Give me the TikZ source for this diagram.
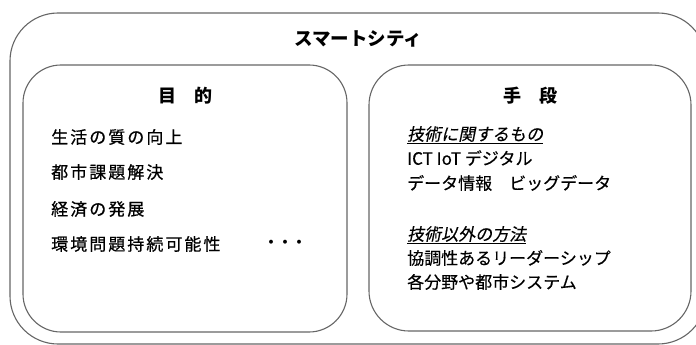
\documentclass[tikz,border=0pt]{standalone}
\usepackage{fontspec}
\setmainfont{Noto Sans CJK JP}
\newfontfamily\jpslant[FakeSlant=0.2,FakeBold=0.3]{Noto Sans CJK JP}
\newfontfamily\jpspaced[LetterSpace=12,FakeBold=0.6]{Noto Sans CJK JP}
\newfontfamily\jpright[FakeBold=0.3]{Noto Sans CJK JP}
\begin{document}
\begin{tikzpicture}[x=1pt,y=-1pt,
  box/.style={draw=black!60, line width=1.1pt, rounded corners=#1, inner sep=0pt},
  title/.style={inner sep=0pt, font=\fontsize{18.5}{22}\selectfont\bfseries},
  head/.style={inner sep=0pt, font=\fontsize{18}{22}\selectfont\bfseries},
  leftitem/.style={anchor=west, inner sep=0pt, font=\fontsize{17}{20}\selectfont\jpspaced},
  rightitem/.style={anchor=west, inner sep=0pt, font=\fontsize{17}{20}\selectfont\jpright},
  subhead/.style={anchor=west, inner sep=0pt, font=\fontsize{17}{20}\selectfont\jpslant}]
\useasboundingbox (0,0) rectangle (696,345);
\clip (0,0) rectangle (696,345);
\node[box=48pt, minimum width=696pt, minimum height=331pt] (outer) at (358,178.5) {};
\node[box=38pt, minimum width=324pt, minimum height=267pt] (left) at (185,198.5) {};
\node[box=40pt, minimum width=322pt, minimum height=266pt] (right) at (530,198) {};
\node[title] (title) at (358,39) {スマートシティ};
\node[head] (purpose) at (185,96) {目　的};
\node[head] (means) at (530,96) {手　段};
\node[leftitem] (l1) at (51,137) {生活の質の向上};
\node[leftitem] (l2) at (51,172) {都市課題解決};
\node[leftitem] (l3) at (51,209) {経済の発展};
\node[leftitem] (l4) at (51,244) {環境問題持続可能性};
\node[inner sep=0pt, font=\fontsize{14}{16}\selectfont\bfseries] (dots) at (285,244) {・・・};
\node[subhead] (r1) at (407,135) {\underline{技術に関するもの}};
\node[rightitem] (r2) at (407,158) {ICT IoT デジタル};
\node[rightitem] (r3) at (407,183) {データ情報　ビッグデータ};
\node[subhead] (r4) at (407,235) {\underline{技術以外の方法}};
\node[rightitem] (r5) at (407,258) {協調性あるリーダーシップ};
\node[rightitem] (r6) at (407,282) {各分野や都市システム};
\end{tikzpicture}
\end{document}
